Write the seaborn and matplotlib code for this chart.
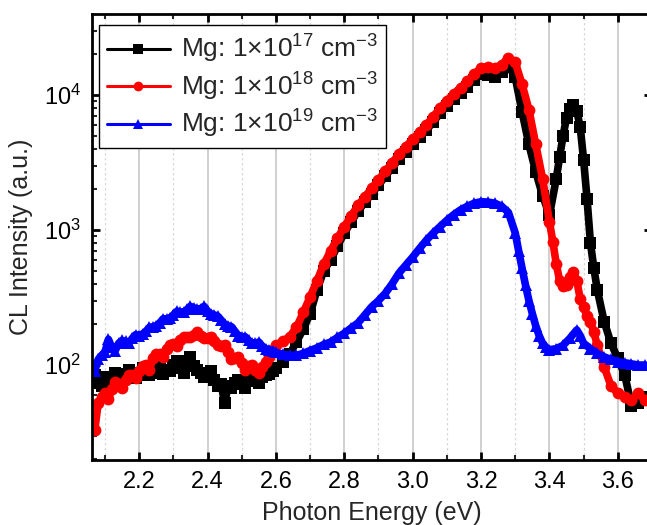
import numpy as np
import pandas as pd
import seaborn as sns
import matplotlib
matplotlib.use("Agg")
import matplotlib.pyplot as plt
from matplotlib.ticker import MultipleLocator, LogLocator, LogFormatterMathtext, NullFormatter

# ---------------- data ----------------
labels = ["Mg: 1\u00d710$^{17}$ cm$^{-3}$",
          "Mg: 1\u00d710$^{18}$ cm$^{-3}$",
          "Mg: 1\u00d710$^{19}$ cm$^{-3}$"]

# photon energies of the noisy low-energy part (shared by all three spectra)
x_low = [2.06, 2.07, 2.08, 2.09, 2.10, 2.11, 2.12, 2.13, 2.14, 2.15, 2.16, 2.17, 2.18, 2.19,
         2.20, 2.21, 2.22, 2.23, 2.24, 2.25, 2.26, 2.27, 2.28, 2.29, 2.30, 2.31, 2.32, 2.33,
         2.34, 2.35, 2.36, 2.37, 2.38, 2.39, 2.40, 2.41, 2.42, 2.43, 2.44, 2.45, 2.46, 2.47,
         2.48, 2.49, 2.50, 2.51, 2.52, 2.53, 2.54, 2.55, 2.56, 2.57, 2.58, 2.59, 2.60]

y17_low = [78, 85, 74, 70, 82, 76, 80, 88, 86, 78, 84, 92, 88, 80,
           85, 95, 90, 84, 88, 100, 95, 86, 92, 90, 100, 108, 95, 88,
           108, 115, 98, 92, 88, 82, 84, 90, 78, 70, 72, 52, 70, 68,
           74, 78, 72, 68, 76, 82, 80, 74, 82, 84, 86, 90, 95]
y18_low = [40, 33, 52, 58, 62, 56, 66, 75, 72, 68, 78, 85, 85, 80,
           90, 98, 100, 92, 112, 120, 120, 115, 132, 140, 142, 138, 152, 160,
           162, 160, 168, 175, 165, 158, 158, 160, 150, 140, 138, 140, 125, 110,
           112, 115, 104, 92, 98, 100, 92, 88, 96, 105, 115, 130, 140]
y19_low = [100, 90, 110, 118, 125, 155, 135, 128, 145, 152, 150, 145, 158, 168,
           165, 170, 178, 190, 192, 195, 205, 220, 220, 222, 235, 250, 248, 245,
           258, 272, 265, 258, 262, 272, 250, 240, 235, 230, 215, 200, 195, 192,
           178, 165, 162, 162, 152, 145, 145, 148, 138, 132, 130, 128, 124]

x17_high = [2.62, 2.64, 2.66, 2.68, 2.70, 2.72, 2.74, 2.76, 2.78, 2.80, 2.82, 2.84, 2.86, 2.88,
            2.90, 2.92, 2.94, 2.96, 2.98, 3.00, 3.02, 3.04, 3.06, 3.08, 3.10, 3.12, 3.14, 3.16,
            3.18, 3.20, 3.22, 3.24, 3.26, 3.28, 3.30, 3.32, 3.34, 3.36, 3.38, 3.40, 3.42, 3.43,
            3.44, 3.45, 3.46, 3.47, 3.48, 3.49, 3.50, 3.51, 3.52, 3.53, 3.54, 3.56, 3.58, 3.60,
            3.62, 3.64, 3.66, 3.68]
y17_high = [105, 120, 148, 185, 240, 360, 500, 600, 760, 950, 1150, 1380, 1600, 1850,
            2150, 2500, 2900, 3350, 3800, 4300, 4850, 5500, 6300, 7300, 8300, 9300, 10300, 11500,
            13000, 14200, 14000, 13500, 14800, 16500, 13500, 7500, 4300, 2700, 1800, 1290, 2400, 3500,
            5000, 6800, 7900, 8400, 7600, 5800, 3300, 1700, 800, 520, 360, 210, 145, 112,
            85, 50, 52, 58]

x18_high = [2.62, 2.64, 2.66, 2.68, 2.70, 2.72, 2.74, 2.76, 2.78, 2.80, 2.82, 2.84, 2.86, 2.88,
            2.90, 2.92, 2.94, 2.96, 2.98, 3.00, 3.02, 3.04, 3.06, 3.08, 3.10, 3.12, 3.14, 3.16,
            3.18, 3.20, 3.22, 3.24, 3.26, 3.28, 3.30, 3.32, 3.34, 3.36, 3.38, 3.40, 3.41, 3.42,
            3.43, 3.44, 3.45, 3.46, 3.47, 3.48, 3.49, 3.50, 3.51, 3.52, 3.53, 3.54, 3.56, 3.58,
            3.60, 3.62, 3.64, 3.66, 3.68]
y18_high = [150, 162, 190, 245, 320, 420, 560, 700, 870, 1060, 1270, 1520, 1760, 2030,
            2350, 2720, 3150, 3650, 4150, 4700, 5300, 6000, 6900, 8000, 9100, 10200, 11300, 12600,
            14300, 15800, 16200, 15800, 16800, 18800, 17500, 12000, 7800, 4300, 2400, 1150, 820, 560,
            420, 385, 390, 450, 490, 420, 310, 270, 230, 210, 175, 140, 97, 70,
            62, 58, 55, 62, 55]

x19_high = [2.62, 2.64, 2.66, 2.68, 2.70, 2.72, 2.74, 2.76, 2.78, 2.80, 2.82, 2.84, 2.86, 2.88,
            2.90, 2.92, 2.94, 2.96, 2.98, 3.00, 3.02, 3.04, 3.06, 3.08, 3.10, 3.12, 3.14, 3.16,
            3.18, 3.20, 3.22, 3.24, 3.26, 3.28, 3.30, 3.31, 3.32, 3.33, 3.34, 3.35, 3.36, 3.37,
            3.38, 3.39, 3.40, 3.42, 3.44, 3.46, 3.48, 3.49, 3.50, 3.52, 3.54, 3.56, 3.58, 3.60,
            3.62, 3.64, 3.66, 3.68]
y19_high = [120, 118, 118, 122, 128, 134, 142, 148, 160, 172, 188, 205, 235, 270,
            300, 340, 400, 480, 550, 630, 730, 840, 950, 1060, 1180, 1300, 1410, 1500,
            1580, 1620, 1610, 1580, 1500, 1350, 950, 700, 520, 390, 300, 240, 195, 165,
            145, 135, 130, 132, 140, 158, 182, 165, 145, 132, 122, 115, 110, 106,
            104, 102, 100, 100]

series = [(x_low + x17_high, y17_low + y17_high, labels[0], "black", "s", 8.0),
          (x_low + x18_high, y18_low + y18_high, labels[1], "red", "o", 8.5),
          (x_low + x19_high, y19_low + y19_high, labels[2], "blue", "^", 9.0)]

# ---------------- style ----------------
sns.set_theme(style="ticks")
plt.rcParams["font.family"] = ["Liberation Sans", "DejaVu Sans"]
plt.rcParams["mathtext.fontset"] = "custom"
plt.rcParams["mathtext.rm"] = "Liberation Sans"
plt.rcParams["mathtext.it"] = "Liberation Sans:italic"
plt.rcParams["mathtext.bf"] = "Liberation Sans:bold"
plt.rcParams["axes.unicode_minus"] = False

fig = plt.figure(figsize=(6.47, 5.25), dpi=100)
ax = fig.add_axes([92 / 647, 65 / 525, (652 - 92) / 647, 446 / 525])

for xs, ys, lab, col, mk, ms in series:
    df = pd.DataFrame({"x": xs, "y": ys})
    sns.lineplot(data=df, x="x", y="y", ax=ax, color=col, marker=mk,
                 markersize=ms, markeredgewidth=0, markeredgecolor=col,
                 linewidth=5.5, estimator=None, sort=False, label=lab)

ax.set_yscale("log")
ax.set_xlim(2.062, 3.70)
ax.set_ylim(19.8, 39800)

ax.xaxis.set_major_locator(MultipleLocator(0.2))
ax.xaxis.set_minor_locator(MultipleLocator(0.1))
ax.xaxis.set_major_formatter(matplotlib.ticker.FormatStrFormatter("%.1f"))
ax.yaxis.set_major_locator(LogLocator(base=10, numticks=10))
ax.yaxis.set_minor_locator(LogLocator(base=10, subs=np.arange(2, 10), numticks=20))
ax.yaxis.set_major_formatter(LogFormatterMathtext())
ax.yaxis.set_minor_formatter(NullFormatter())

ax.grid(True, which="major", axis="x", color="#c8c8c8", linewidth=1.2, linestyle="-")
ax.grid(True, which="minor", axis="x", color="#d8d8d8", linewidth=0.9, linestyle=(0, (2, 2)))
ax.grid(False, axis="y", which="both")
ax.set_axisbelow(True)

for s in ax.spines.values():
    s.set_linewidth(2)
    s.set_color("black")

ax.tick_params(axis="both", which="major", direction="in", length=6, width=2,
               labelsize=17, top=True, right=True, colors="black", pad=8)
ax.tick_params(axis="both", which="minor", direction="in", length=3.5, width=1.5,
               top=True, right=True)

ax.set_xlabel("Photon Energy (eV)", fontsize=18, labelpad=6)
ax.set_ylabel("CL Intensity (a.u.)", fontsize=18, labelpad=8)

leg = ax.legend(loc="upper left", bbox_to_anchor=(0.012, 0.975), frameon=True,
                fancybox=False, edgecolor="black", framealpha=1, fontsize=19,
                handlelength=2.4, handletextpad=0.4, labelspacing=0.2,
                borderpad=0.3, borderaxespad=0.0)
leg.get_frame().set_linewidth(1.0)
for line in leg.get_lines():
    line.set_linewidth(2.2)
    line.set_markersize(7)

fig.savefig("out.png", dpi=100)
